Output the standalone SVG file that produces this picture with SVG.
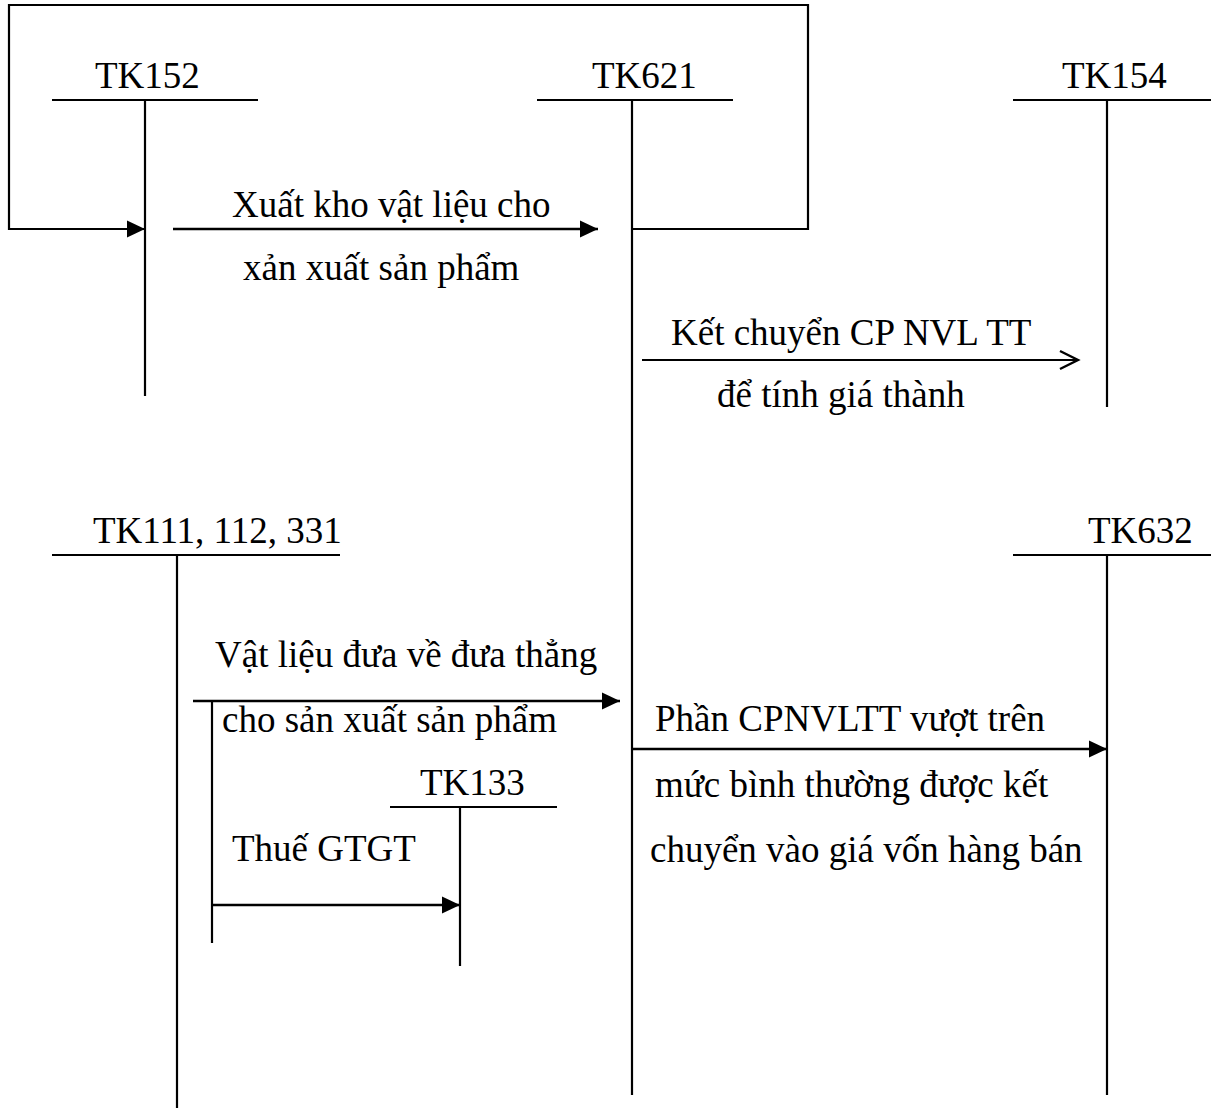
<svg xmlns="http://www.w3.org/2000/svg" width="1211" height="1108" viewBox="0 0 1211 1108">
<style>
text{font-family:"Liberation Serif","Times New Roman",serif;font-size:37px;fill:#000}
.l{stroke:#000;stroke-width:2.2;fill:none}
.a{stroke-width:2.6}
</style>
<defs>
<marker id="fa" markerWidth="20" markerHeight="18" refX="18" refY="9" orient="auto" markerUnits="userSpaceOnUse" overflow="visible"><path d="M0,0.5 L18,9 L0,17.5 Z" fill="#000"/></marker>
<marker id="oa" markerWidth="22" markerHeight="22" refX="19" refY="10" orient="auto" markerUnits="userSpaceOnUse" overflow="visible"><path d="M1,1 L19,10 L1,19" fill="none" stroke="#000" stroke-width="2.4"/></marker>
</defs>
<rect width="1211" height="1108" fill="#fff"/>
<g id="tk152">
<line class="l" x1="52" y1="100" x2="258" y2="100"/>
<line class="l" x1="145" y1="100" x2="145" y2="396"/>
<text x="95" y="88">TK152</text>
</g>
<g id="tk621">
<line class="l" x1="537" y1="100" x2="733" y2="100"/>
<line class="l" x1="632" y1="100" x2="632" y2="1095"/>
<text x="592" y="88">TK621</text>
</g>
<g id="tk154">
<line class="l" x1="1013" y1="100" x2="1211" y2="100"/>
<line class="l" x1="1107" y1="100" x2="1107" y2="407"/>
<text x="1062" y="88">TK154</text>
</g>
<g id="tk111">
<line class="l" x1="52" y1="555" x2="340" y2="555"/>
<line class="l" x1="177" y1="555" x2="177" y2="1108"/>
<text x="93" y="543">TK111, 112, 331</text>
</g>
<g id="tk632">
<line class="l" x1="1013" y1="555" x2="1211" y2="555"/>
<line class="l" x1="1107" y1="555" x2="1107" y2="1095"/>
<text x="1088" y="543">TK632</text>
</g>
<g id="tk133">
<line class="l" x1="390" y1="807" x2="557" y2="807"/>
<line class="l" x1="460" y1="807" x2="460" y2="966"/>
<text x="420" y="795">TK133</text>
</g>
<g id="connectors">
<polyline class="l" points="632,229 808,229 808,5 9,5 9,229 145,229" marker-end="url(#fa)"/>
<line class="l a" x1="173" y1="229" x2="598" y2="229" marker-end="url(#fa)"/>
<line class="l" x1="642" y1="360" x2="1078" y2="360" marker-end="url(#oa)"/>
<line class="l a" x1="193" y1="701" x2="620" y2="701" marker-end="url(#fa)"/>
<line class="l" x1="212" y1="701" x2="212" y2="943"/>
<line class="l a" x1="212" y1="905" x2="460" y2="905" marker-end="url(#fa)"/>
<line class="l a" x1="632" y1="749" x2="1107" y2="749" marker-end="url(#fa)"/>
</g>
<g id="labels">
<text x="232" y="217">Xuất kho vật liệu cho</text>
<text x="243" y="280">xản xuất sản phẩm</text>
<text x="671" y="345">Kết chuyển CP NVL TT</text>
<text x="717" y="407">để tính giá thành</text>
<text x="215" y="667">Vật liệu đưa về đưa thẳng</text>
<text x="222" y="732">cho sản xuất sản phẩm</text>
<text x="232" y="861">Thuế GTGT</text>
<text x="655" y="731">Phần CPNVLTT vượt trên</text>
<text x="655" y="797">mức bình thường được kết</text>
<text x="650" y="862">chuyển vào giá vốn hàng bán</text>
</g>
</svg>
